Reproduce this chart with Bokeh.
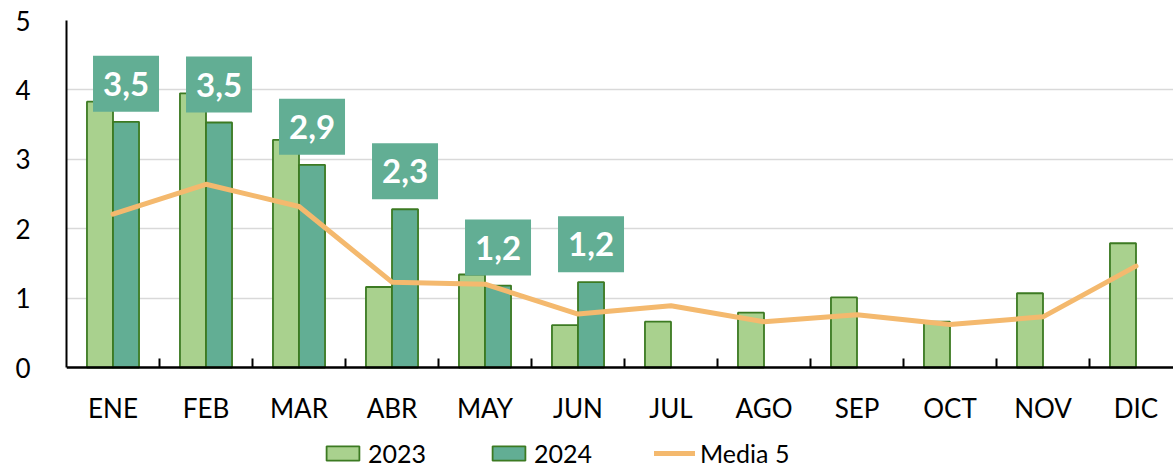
from bokeh.plotting import figure
from bokeh.models import ColumnDataSource, FixedTicker, Range1d, Legend, LegendItem
from bokeh.core.properties import value
from bokeh.embed import file_html
from bokeh.resources import INLINE

months = ["ENE", "FEB", "MAR", "ABR", "MAY", "JUN", "JUL", "AGO", "SEP", "OCT", "NOV", "DIC"]
v2023 = [3.83, 3.95, 3.28, 1.16, 1.34, 0.61, 0.66, 0.79, 1.01, 0.66, 1.07, 1.79]
v2024 = [3.54, 3.53, 2.92, 2.28, 1.18, 1.23]
media5 = [2.21, 2.64, 2.32, 1.23, 1.20, 0.77, 0.89, 0.66, 0.76, 0.62, 0.73, 1.46]
labels2024 = ["3,5", "3,5", "2,9", "2,3", "1,2", "1,2"]

FONT = "Lato"
C23 = "#A9D18E"
C24 = "#62AE94"
EDGE = "#3C7A22"
CLINE = "#F4B96E"

idx = list(range(len(months)))
idx24 = list(range(len(v2024)))
s23 = ColumnDataSource(dict(x=[i - 0.14 for i in idx], y=v2023))
s24 = ColumnDataSource(dict(x=[i + 0.14 for i in idx24], y=v2024, lab=labels2024))
sm = ColumnDataSource(dict(x=idx, y=media5))

# plot area: 347 px for 0..5, extended below 0 to host labels and legend
PX_PER_UNIT = 347 / 5
p = figure(width=1173, height=469, output_backend="svg", toolbar_location=None,
           min_border_left=66, min_border_right=0, min_border_top=20, min_border_bottom=0,
           x_range=Range1d(-0.5, -0.5 + 1107 / 93),
           y_range=Range1d(5 - 449 / PX_PER_UNIT, 5))
p.outline_line_color = None
p.background_fill_color = "white"

r23 = p.vbar(x="x", top="y", width=0.28, source=s23, fill_color=C23, line_color=EDGE, line_width=1.8)
r24 = p.vbar(x="x", top="y", width=0.28, source=s24, fill_color=C24, line_color=EDGE, line_width=1.8)
rl = p.line(x="x", y="y", source=sm, line_color=CLINE, line_width=5, line_join="round", line_cap="round")

p.text(x="x", y="y", text="lab", source=s24, anchor="bottom_center", y_offset=-10,
       text_color="white", text_font=value(FONT), text_font_style="bold", text_font_size="33px",
       background_fill_color=C24, padding=(10, 16))

# axes
p.xgrid.grid_line_color = None
p.ygrid.grid_line_color = "#D9D9D9"
p.ygrid.grid_line_width = 1.5
p.yaxis.ticker = FixedTicker(ticks=[0, 1, 2, 3, 4, 5])
p.yaxis.bounds = (0, 5)
p.yaxis.axis_line_color = "black"
p.yaxis.axis_line_width = 2
p.yaxis.major_tick_line_color = None
p.yaxis.minor_tick_line_color = None
p.yaxis.major_label_standoff = 30
p.yaxis.major_label_text_font = FONT
p.yaxis.major_label_text_font_size = "26px"
p.yaxis.major_label_text_color = "black"

p.xaxis.fixed_location = 0
p.xaxis.ticker = FixedTicker(ticks=idx, minor_ticks=[i + 0.5 for i in idx])
p.xaxis.major_label_overrides = {i: m for i, m in enumerate(months)}
p.xaxis.axis_line_color = "black"
p.xaxis.axis_line_width = 2.5
p.xaxis.major_tick_line_color = None
p.xaxis.minor_tick_line_color = "black"
p.xaxis.minor_tick_line_width = 2
p.xaxis.minor_tick_in = 9
p.xaxis.minor_tick_out = 0
p.xaxis.major_label_standoff = 18
p.xaxis.major_label_text_font = FONT
p.xaxis.major_label_text_font_size = "26px"
p.xaxis.major_label_text_color = "black"

legend = Legend(items=[LegendItem(label="2023", renderers=[r23]),
                       LegendItem(label="2024", renderers=[r24]),
                       LegendItem(label="Media 5", renderers=[rl])],
                orientation="horizontal", location=(256, 1),
                glyph_width=41, glyph_height=18, label_standoff=5, spacing=62,
                padding=0, margin=0, border_line_color=None, background_fill_alpha=0,
                label_text_font=FONT, label_text_font_size="25px", label_text_color="black")
p.add_layout(legend)

open("out.html", "w").write(file_html(p, INLINE))
